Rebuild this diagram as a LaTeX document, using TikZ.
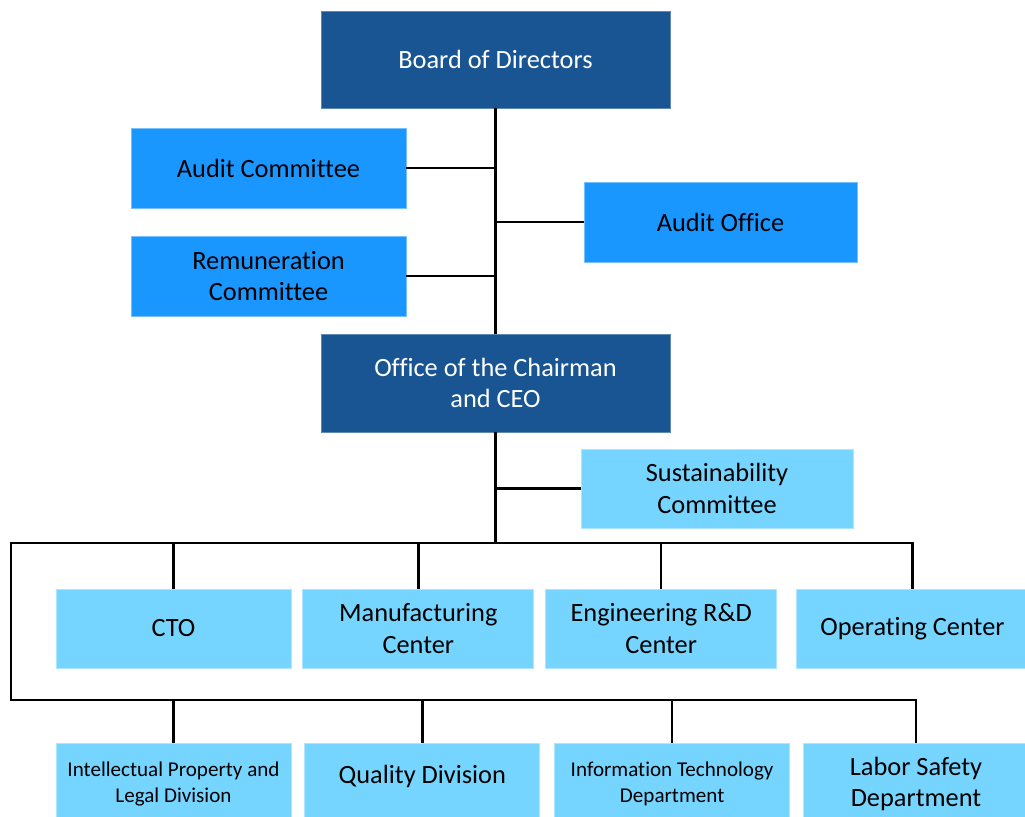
\documentclass[tikz,border=0pt]{standalone}
\usepackage{fontspec}
\setmainfont{Carlito}[Ligatures=NoCommon]
\usepackage{tikz}
\usetikzlibrary{positioning}

\definecolor{boardblue}{HTML}{1A5593}
\definecolor{midblue}{HTML}{1A96FF}
\definecolor{paleblue}{HTML}{75D5FF}

\begin{document}
\begin{tikzpicture}[x=0.02cm, y=-0.02cm,
  every node/.style = {inner sep=0pt, align=center, font=\fontsize{15}{18}\selectfont},
  darkbox/.style    = {rectangle, fill=boardblue, draw=boardblue!70!white, line width=0.5pt, text=white, minimum width=6.98cm},
  midbox/.style     = {rectangle, fill=midblue, draw=midblue!60!white, line width=0.5pt, minimum width=5.5cm, minimum height=1.6cm},
  palebox/.style    = {rectangle, fill=paleblue, draw=paleblue!60!white, line width=0.5pt, minimum width=4.62cm},
  small/.style      = {font=\fontsize{12}{14.6}\selectfont},
  link/.style       = {draw, line width=1.5pt}]

\useasboundingbox (0,0) rectangle (1025,816);

\node [darkbox, minimum height=1.94cm] (bod) at (495.5, 59.5) {Board of Directors};
\node [midbox                        ] (ac)  at (268.5,168  ) {Audit Committee};
\node [midbox                        ] (rc)  at (268.5,276  ) {Remuneration\\Committee};
\node [midbox, minimum width=5.46cm  ] (ao)  at (720.5,222  ) {Audit Office};
\node [darkbox, minimum height=1.96cm] (ceo) at (495.5,383  ) {Office of the Chairman\\and CEO};
\node [palebox, minimum width=5.44cm, minimum height=1.58cm] (sc) at (717,488.5) {Sustainability\\Committee};

% first row
\node [palebox, minimum height=1.58cm, minimum width=4.7cm] (cto) at (173.5,628.5) {CTO};
\node [palebox, minimum height=1.58cm, right=0.22cm of cto] (mfg) {Manufacturing\\Center};
\node [palebox, minimum height=1.58cm, right=0.22cm of mfg] (eng) {Engineering R\&D\\Center};
\node [palebox, minimum height=1.58cm, minimum width=4.64cm, right=0.38cm of eng] (op) {Operating Center};

% second row
\node [palebox, minimum height=1.64cm, small, minimum width=4.7cm] (ip) at (173.5,784) {Intellectual Property and\\Legal Division};
\node [palebox, minimum height=1.64cm, minimum width=4.7cm, right=0.26cm of ip] (qd) {\raisebox{0.15cm}[\height][\depth]{Quality Division}};
\node [palebox, minimum height=1.64cm, minimum width=4.7cm, small, right=0.28cm of qd] (it) {Information Technology\\Department};
\node [palebox, minimum height=1.64cm, minimum width=4.5cm, right=0.26cm of it] (ls) {Labor Safety\\Department};

\coordinate (busl)  at (11,543);
\coordinate (loopl) at (11,700);

\path [link] (bod) -- (ceo);
\path [link] (ceo.south) -- (ceo.south |- busl);
\path [link] (ac.east) -- (ac.east -| bod.south);
\path [link] (rc.east) -- (rc.east -| bod.south);
\path [link] (ao.west) -- (ao.west -| bod.south);
\path [link] (sc.west) -- (sc.west -| ceo.south);

\path [link] (op.north) |- (busl) -- (loopl) -| (ls.north);
\foreach \n in {cto, mfg, eng}
	\path [link] (\n.north) -- (\n.north |- busl);
\foreach \n in {ip, qd, it}
	\path [link] (\n.north) -- (\n.north |- loopl);

\end{tikzpicture}
\end{document}
